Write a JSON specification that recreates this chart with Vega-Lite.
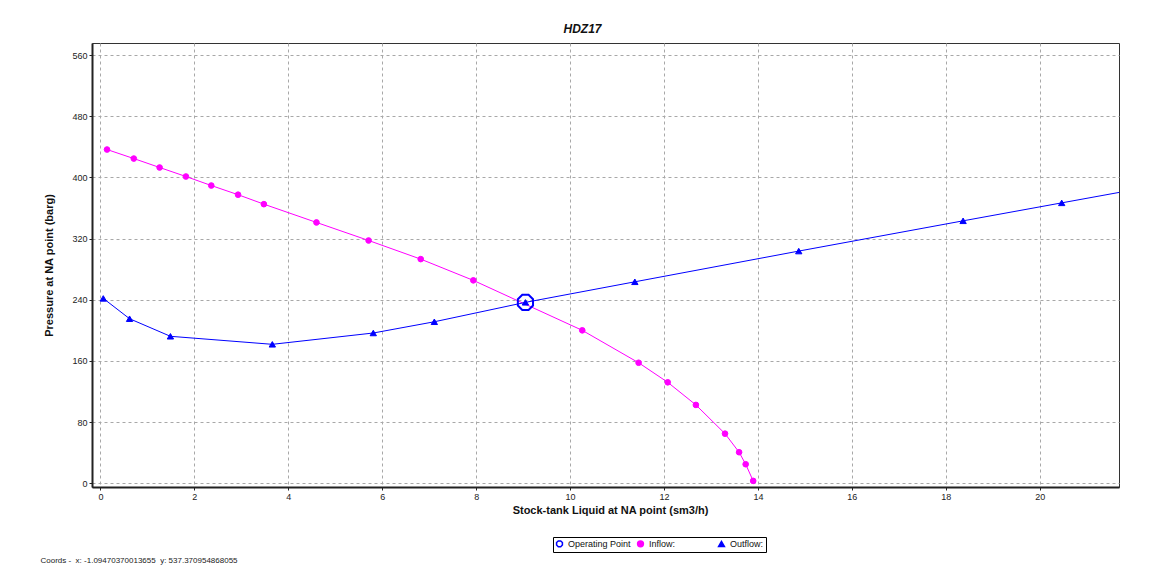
{
  "$schema": "https://vega.github.io/schema/vega-lite/v6.json",
  "width": 1027,
  "height": 444,
  "autosize": {"type": "none"},
  "padding": {"left": 92, "top": 43, "right": 33, "bottom": 93},
  "background": "#ffffff",
  "title": {
    "text": "HDZ17",
    "font": "Liberation Sans",
    "fontSize": 12,
    "fontWeight": "bold",
    "fontStyle": "italic",
    "color": "#111111",
    "anchor": "middle",
    "dx": -23,
    "offset": 7
  },
  "config": {
    "view": {"stroke": "#333333", "strokeWidth": 1},
    "axis": {
      "labelFont": "Liberation Sans",
      "labelFontSize": 9,
      "labelColor": "#222222",
      "titleFont": "Liberation Sans",
      "titleFontSize": 11,
      "titleFontWeight": "bold",
      "titleColor": "#111111",
      "domainColor": "#222222",
      "domainWidth": 2,
      "tickColor": "#222222",
      "tickSize": 3,
      "labelPadding": 2,
      "grid": true,
      "gridColor": "#a8a8a8",
      "gridDash": [3, 3],
      "gridWidth": 1
    },
    "legend": {
      "labelFont": "Liberation Sans",
      "labelFontSize": 9,
      "labelColor": "#111111"
    }
  },
  "data": {
    "values": [
      {"series": "Inflow:", "x": 0.14, "y": 436.6},
      {"series": "Inflow:", "x": 0.71, "y": 424.8},
      {"series": "Inflow:", "x": 1.26, "y": 413.1},
      {"series": "Inflow:", "x": 1.82, "y": 401.3},
      {"series": "Inflow:", "x": 2.36, "y": 389.5},
      {"series": "Inflow:", "x": 2.93, "y": 377.5},
      {"series": "Inflow:", "x": 3.48, "y": 365.1},
      {"series": "Inflow:", "x": 4.60, "y": 341.2},
      {"series": "Inflow:", "x": 5.71, "y": 317.6},
      {"series": "Inflow:", "x": 6.82, "y": 293.2},
      {"series": "Inflow:", "x": 7.94, "y": 265.4},
      {"series": "Inflow:", "x": 10.26, "y": 200.0},
      {"series": "Inflow:", "x": 11.46, "y": 157.6},
      {"series": "Inflow:", "x": 12.08, "y": 132.0},
      {"series": "Inflow:", "x": 12.68, "y": 102.4},
      {"series": "Inflow:", "x": 13.30, "y": 64.8},
      {"series": "Inflow:", "x": 13.60, "y": 40.5},
      {"series": "Inflow:", "x": 13.74, "y": 24.8},
      {"series": "Inflow:", "x": 13.90, "y": 3.0},
      {"series": "Outflow:", "x": 0.06, "y": 241.8},
      {"series": "Outflow:", "x": 0.62, "y": 215.2},
      {"series": "Outflow:", "x": 1.49, "y": 192.2},
      {"series": "Outflow:", "x": 3.66, "y": 181.7},
      {"series": "Outflow:", "x": 5.81, "y": 196.5},
      {"series": "Outflow:", "x": 7.11, "y": 211.2},
      {"series": "Outflow:", "x": 9.05, "y": 236.6},
      {"series": "Outflow:", "x": 11.38, "y": 263.5},
      {"series": "Outflow:", "x": 14.87, "y": 303.7},
      {"series": "Outflow:", "x": 18.37, "y": 343.3},
      {"series": "Outflow:", "x": 20.47, "y": 366.8},
      {"series": "Outflow:", "x": 22.90, "y": 394.0},
      {"series": "Operating Point", "x": 9.05, "y": 236.6}
    ]
  },
  "resolve": {"scale": {"x": "independent"}, "axis": {"x": "independent"}},
  "layer": [
    {
      "transform": [{"filter": "datum.series !== 'Operating Point'"}],
      "mark": {"type": "line", "clip": true, "strokeWidth": 1},
      "encoding": {
        "x": {
          "field": "x",
          "type": "quantitative",
          "scale": {"domain": [-0.18, 21.69], "nice": false, "zero": false},
          "axis": {
            "values": [0, 2, 4, 6, 8, 10, 12, 14, 16, 18, 20],
            "title": "Stock-tank Liquid at NA point (sm3/h)",
            "titleX": 518,
            "titleY": 23,
            "titleAlign": "center",
            "titleBaseline": "middle"
          }
        },
        "y": {
          "field": "y",
          "type": "quantitative",
          "scale": {"domain": [-5, 576], "nice": false, "zero": false},
          "axis": {
            "values": [0, 80, 160, 240, 320, 400, 480, 560],
            "title": "Pressure at NA point (barg)",
            "titleX": -43,
            "titleY": 222,
            "titleAlign": "center",
            "titleBaseline": "middle"
          }
        },
        "color": {
          "field": "series",
          "type": "nominal",
          "scale": {"domain": ["Inflow:", "Outflow:"], "range": ["#FF00FF", "#0000FF"]},
          "legend": null
        },
        "order": {"field": "x", "type": "quantitative"}
      }
    },
    {
      "mark": {"type": "point", "clip": true, "opacity": 1},
      "encoding": {
        "x": {
          "field": "x",
          "type": "quantitative",
          "scale": {"domain": [-0.18, 21.69], "nice": false, "zero": false},
          "axis": {
            "orient": "top",
            "labels": false,
            "ticks": false,
            "domain": false,
            "grid": false,
            "title": "Coords -\u00a0 x: -1.09470370013655 \u00a0y: 537.370954868055",
            "titleFontWeight": "normal",
            "titleFontSize": 8,
            "titleColor": "#222222",
            "titleX": -52,
            "titleY": 517,
            "titleAlign": "left",
            "titleBaseline": "middle"
          }
        },
        "y": {"field": "y", "type": "quantitative"},
        "shape": {
          "field": "series",
          "type": "nominal",
          "scale": {
            "domain": ["Operating Point", "Inflow:", "Outflow:"],
            "range": ["M-0.414,-1L0.414,-1L1,-0.414L1,0.414L0.414,1L-0.414,1L-1,0.414L-1,-0.414Z", "circle", "triangle-up"]
          },
          "legend": {
            "title": null,
            "orient": "none",
            "legendX": 461,
            "legendY": 494,
            "direction": "horizontal",
            "columns": 3,
            "gridAlign": "all",
            "columnPadding": 3,
            "padding": 2,
            "strokeColor": "#000000",
            "fillColor": "#ffffff",
            "symbolSize": 34,
            "symbolStrokeWidth": 1.5,
            "labelOffset": 4
          }
        },
        "fill": {
          "field": "series",
          "type": "nominal",
          "scale": {
            "domain": ["Operating Point", "Inflow:", "Outflow:"],
            "range": ["transparent", "#FF00FF", "#0000FF"]
          },
          "legend": {
            "title": null,
            "orient": "none",
            "legendX": 461,
            "legendY": 494,
            "direction": "horizontal",
            "columns": 3,
            "gridAlign": "all",
            "columnPadding": 3,
            "padding": 2,
            "strokeColor": "#000000",
            "fillColor": "#ffffff",
            "symbolSize": 34,
            "symbolStrokeWidth": 1.5,
            "labelOffset": 4
          }
        },
        "stroke": {
          "field": "series",
          "type": "nominal",
          "scale": {
            "domain": ["Operating Point", "Inflow:", "Outflow:"],
            "range": ["#0000FF", "#FF00FF", "#0000FF"]
          },
          "legend": {
            "title": null,
            "orient": "none",
            "legendX": 461,
            "legendY": 494,
            "direction": "horizontal",
            "columns": 3,
            "gridAlign": "all",
            "columnPadding": 3,
            "padding": 2,
            "strokeColor": "#000000",
            "fillColor": "#ffffff",
            "symbolSize": 34,
            "symbolStrokeWidth": 1.5,
            "labelOffset": 4
          }
        },
        "size": {
          "condition": [
            {"test": "datum.series === 'Operating Point'", "value": 230},
            {"test": "datum.series === 'Outflow:'", "value": 40}
          ],
          "value": 32
        },
        "strokeWidth": {
          "condition": {"test": "datum.series === 'Operating Point'", "value": 2},
          "value": 1
        }
      }
    }
  ]
}
